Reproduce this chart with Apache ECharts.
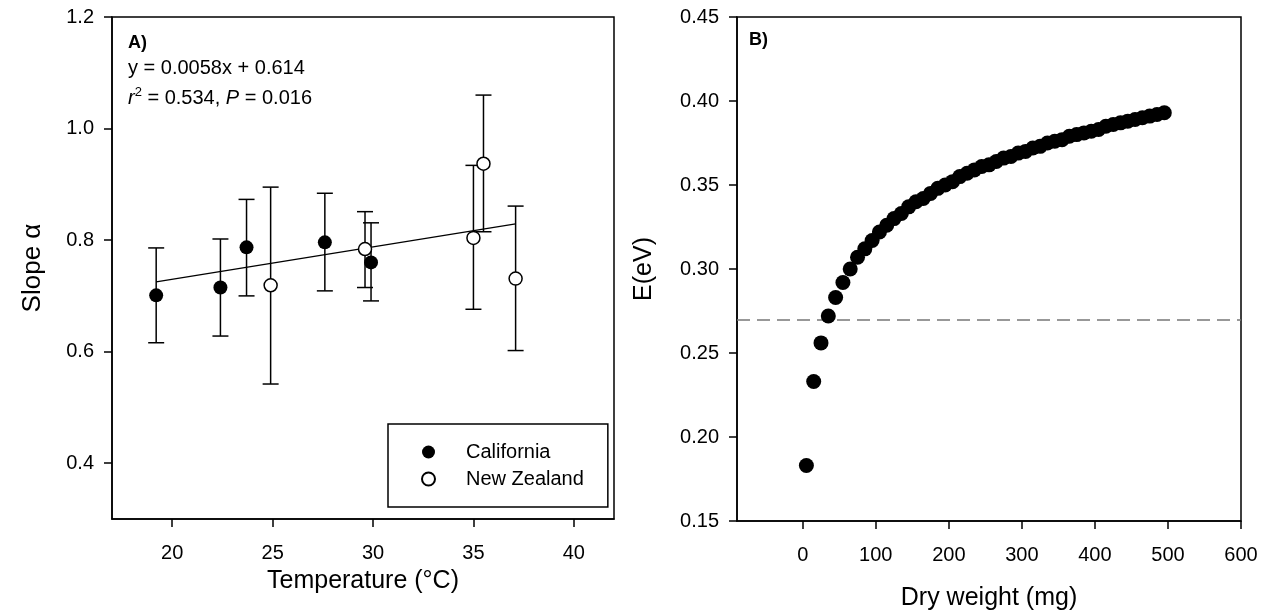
<!DOCTYPE html>
<html><head><meta charset="utf-8">
<script src="https://cdn.jsdelivr.net/npm/echarts@6/dist/echarts.min.js"></script>
<style>html,body{margin:0;padding:0;background:#fff}#c{width:1272px;height:616px}</style>
</head><body><div id="c"></div><script>
// ---------- Panel A data ----------
const tempCA  = [19.2, 22.4, 23.7, 27.6, 29.9];
const slopeCA = [0.701, 0.715, 0.787, 0.796, 0.760];
const lowCA   = [0.616, 0.628, 0.700, 0.709, 0.691];
const highCA  = [0.786, 0.802, 0.873, 0.884, 0.831];
const tempNZ  = [24.9, 29.6, 35.0, 35.5, 37.1];
const slopeNZ = [0.719, 0.784, 0.804, 0.937, 0.731];
const lowNZ   = [0.542, 0.715, 0.676, 0.815, 0.602];
const highNZ  = [0.895, 0.851, 0.934, 1.060, 0.861];
const fitX = [19.2, 37.1];
const fitY = [0.725, 0.829];
const ticksAx = [20, 25, 30, 35, 40];
const ticksAy = [0.4, 0.6, 0.8, 1.0, 1.2];
// ---------- Panel B data ----------
const weightB = [5,15,25,35,45,55,65,75,85,95,105,115,125,135,145,155,165,175,185,195,205,215,225,235,245,255,265,275,285,295,305,315,325,335,345,355,365,375,385,395,405,415,425,435,445,455,465,475,485,495];
const energyB = [0.183,0.233,0.256,0.272,0.283,0.292,0.300,0.307,0.312,0.317,0.322,0.326,0.330,0.333,0.337,0.340,0.342,0.345,0.348,0.350,0.352,0.355,0.357,0.359,0.361,0.362,0.364,0.366,0.367,0.369,0.370,0.372,0.373,0.375,0.376,0.377,0.379,0.380,0.381,0.382,0.383,0.385,0.386,0.387,0.388,0.389,0.390,0.391,0.392,0.393];
const refLineB = [0.268];
const ticksBx = [0, 100, 200, 300, 400, 500, 600];

const F = '"Liberation Sans", Arial, Helvetica, sans-serif';
const chart = echarts.init(document.getElementById('c'), null, {renderer: 'canvas'});

const axLine = {show: true, onZero: false, lineStyle: {color: '#000', width: 1.5}};
const axTick = {show: true, inside: false, length: 8, lineStyle: {color: '#000', width: 1.5}};
const lbl = {color: '#000', fontSize: 20, fontFamily: F};

function errSeries(name, xs, lo, hi) {
  return {
    type: 'custom', name: name, xAxisIndex: 0, yAxisIndex: 0, z: 2, silent: true,
    data: xs.map((x, i) => [x, lo[i], hi[i]]),
    renderItem: function (params, api) {
      const top = api.coord([api.value(0), api.value(2)]);
      const bot = api.coord([api.value(0), api.value(1)]);
      const w = 8;
      const st = {stroke: '#000', lineWidth: 1.5};
      return {type: 'group', children: [
        {type: 'line', shape: {x1: top[0], y1: top[1], x2: bot[0], y2: bot[1]}, style: st},
        {type: 'line', shape: {x1: top[0] - w, y1: top[1], x2: top[0] + w, y2: top[1]}, style: st},
        {type: 'line', shape: {x1: bot[0] - w, y1: bot[1], x2: bot[0] + w, y2: bot[1]}, style: st}
      ]};
    }
  };
}

const option = {
  backgroundColor: '#fff',
  animation: false,
  grid: [
    {left: 112, top: 17, width: 502, height: 502, show: true, borderColor: '#000', borderWidth: 1.5, backgroundColor: 'transparent'},
    {left: 737, top: 17, width: 504, height: 505, show: true, borderColor: '#000', borderWidth: 1.5, backgroundColor: 'transparent'}
  ],
  xAxis: [
    {type: 'value', gridIndex: 0, min: 17, max: 42,
     axisLine: axLine, axisTick: Object.assign({customValues: ticksAx}, axTick),
     axisLabel: Object.assign({customValues: ticksAx, margin: 24}, lbl),
     splitLine: {show: false},
     name: 'Temperature (°C)', nameLocation: 'middle', nameGap: 50,
     nameTextStyle: {fontSize: 25, fontFamily: F, color: '#000'}},
    {type: 'value', gridIndex: 1, min: -90, max: 600,
     axisLine: axLine, axisTick: Object.assign({customValues: ticksBx}, axTick),
     axisLabel: Object.assign({customValues: ticksBx, margin: 24}, lbl),
     splitLine: {show: false},
     name: 'Dry weight (mg)', nameLocation: 'middle', nameGap: 65,
     nameTextStyle: {fontSize: 25, fontFamily: F, color: '#000'}}
  ],
  yAxis: [
    {type: 'value', gridIndex: 0, min: 0.3, max: 1.2,
     axisLine: axLine, axisTick: Object.assign({customValues: ticksAy}, axTick),
     axisLabel: Object.assign({customValues: ticksAy, margin: 18, formatter: v => Number(v).toFixed(1)}, lbl),
     splitLine: {show: false},
     name: 'Slope α', nameLocation: 'middle', nameGap: 66,
     nameTextStyle: {fontSize: 26, fontFamily: F, color: '#000'}},
    {type: 'value', gridIndex: 1, min: 0.15, max: 0.45, interval: 0.05,
     axisLine: axLine, axisTick: axTick,
     axisLabel: Object.assign({margin: 18, formatter: v => Number(v).toFixed(2)}, lbl),
     splitLine: {show: false},
     name: 'E(eV)', nameLocation: 'middle', nameGap: 80,
     nameTextStyle: {fontSize: 25, fontFamily: F, color: '#000'}}
  ],
  legend: {
    data: ['California', 'New Zealand'],
    orient: 'vertical', left: 388, top: 424,
    padding: [18, 24, 18, 33], itemWidth: 13, itemHeight: 13, itemGap: 7,
    borderColor: '#000', borderWidth: 1.5, backgroundColor: '#fff',
    textStyle: {fontSize: 20, fontFamily: F, color: '#000', padding: [0, 0, 0, 26]}
  },
  graphic: [
    {type: 'text', left: 128, top: 34, style: {text: 'A)', font: 'bold 18px ' + F, fill: '#000'}},
    {type: 'text', left: 128, top: 58, style: {text: 'y = 0.0058x + 0.614', font: '20px ' + F, fill: '#000'}},
    {type: 'text', left: 128, top: 86, style: {
      text: '{i|r}{s|2}{n| = 0.534, }{i|P}{n| = 0.016}', font: '20px ' + F, fill: '#000',
      rich: {
        i: {fontStyle: 'italic', fontSize: 20, fontFamily: F, fill: '#000', lineHeight: 24},
        n: {fontSize: 20, fontFamily: F, fill: '#000', lineHeight: 24},
        s: {fontSize: 13, fontFamily: F, fill: '#000', verticalAlign: 'top', lineHeight: 24, padding: [0, 0, 10, 0]}
      }}},
    {type: 'text', left: 749, top: 31, style: {text: 'B)', font: 'bold 18px ' + F, fill: '#000'}}
  ],
  series: [
    errSeries('errCA', tempCA, lowCA, highCA),
    errSeries('errNZ', tempNZ, lowNZ, highNZ),
    {type: 'line', name: 'fit', xAxisIndex: 0, yAxisIndex: 0, z: 3, silent: true,
     data: fitX.map((x, i) => [x, fitY[i]]), showSymbol: false, symbol: 'none',
     lineStyle: {color: '#000', width: 1.3}},
    {type: 'scatter', name: 'California', xAxisIndex: 0, yAxisIndex: 0, z: 5,
     data: tempCA.map((x, i) => [x, slopeCA[i]]), symbol: 'circle', symbolSize: 14,
     itemStyle: {color: '#000', opacity: 1}},
    {type: 'scatter', name: 'New Zealand', xAxisIndex: 0, yAxisIndex: 0, z: 5,
     data: tempNZ.map((x, i) => [x, slopeNZ[i]]), symbol: 'circle', symbolSize: 13,
     itemStyle: {color: '#fff', borderColor: '#000', borderWidth: 1.5, opacity: 1}},
    {type: 'scatter', name: 'E', xAxisIndex: 1, yAxisIndex: 1, z: 5,
     data: weightB.map((x, i) => [x, energyB[i]]), symbol: 'circle', symbolSize: 15,
     itemStyle: {color: '#000', opacity: 1},
     markLine: {silent: true, symbol: ['none', 'none'], label: {show: false},
       lineStyle: {color: '#777', width: 1.5, type: [13, 7]},
       data: refLineB.map(v => ({yAxis: v}))}}
  ]
};
chart.setOption(option);
</script></body></html>
